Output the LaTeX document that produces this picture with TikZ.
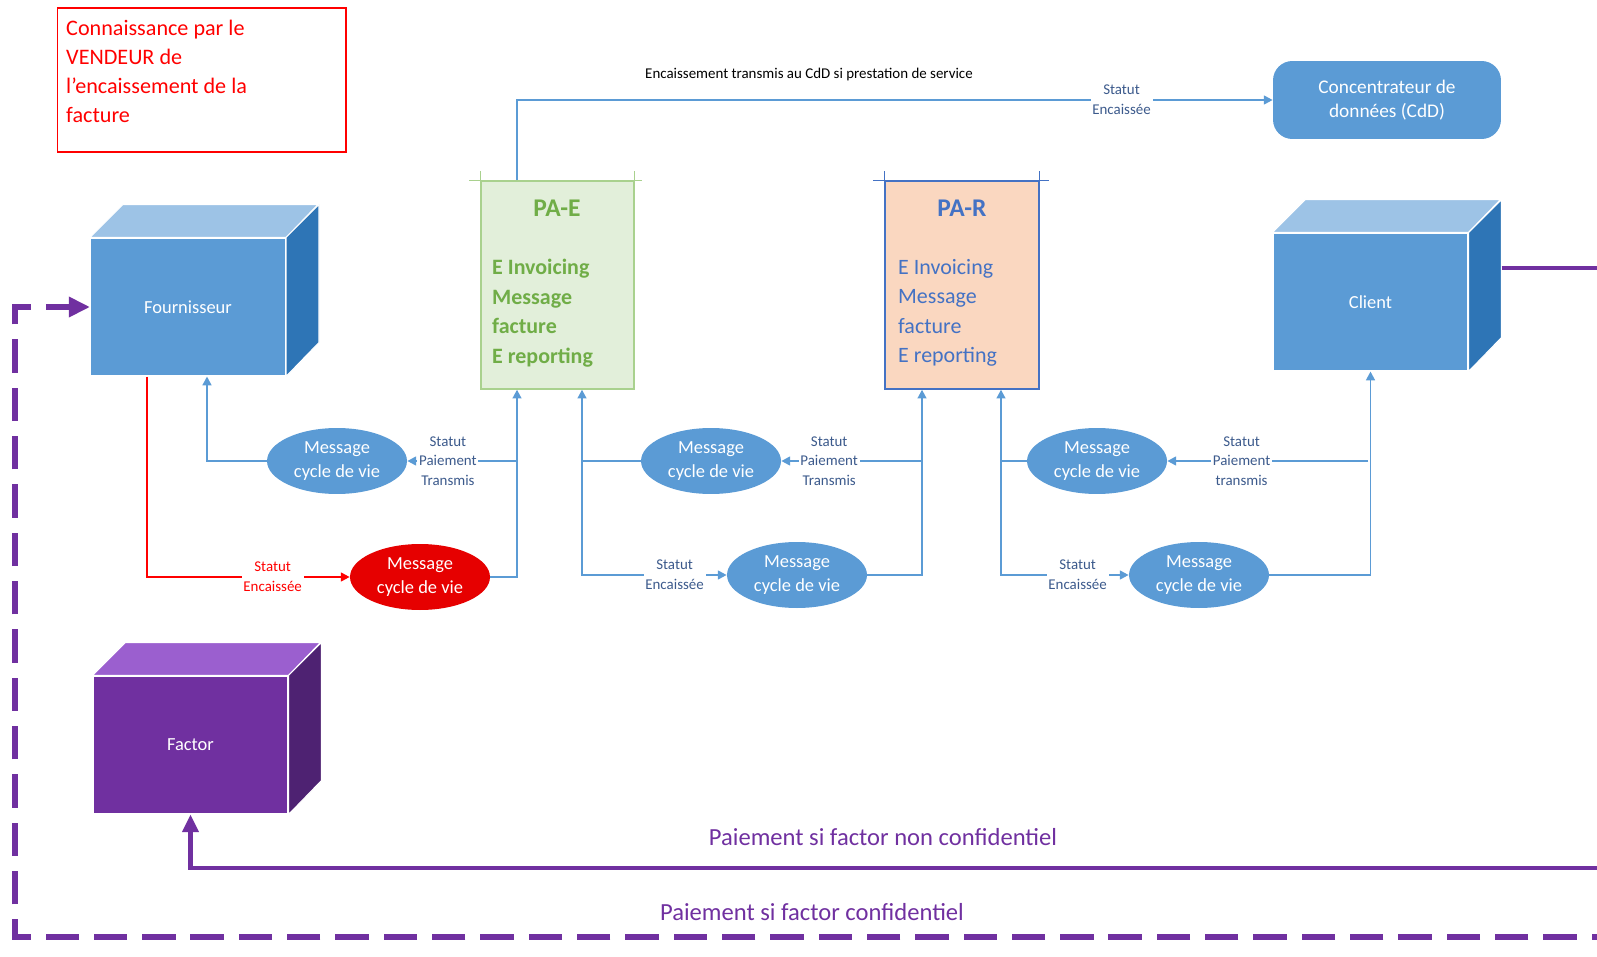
\documentclass[tikz,border=0pt]{standalone}
\usepackage{fontspec}
\setmainfont{Carlito}
\usetikzlibrary{arrows.meta,shapes.geometric}
\definecolor{blueA}{HTML}{5B9BD5}
\definecolor{blueT}{HTML}{9DC3E6}
\definecolor{blueS}{HTML}{2E75B6}
\definecolor{purA}{HTML}{7030A0}
\definecolor{purT}{HTML}{9B5FCF}
\definecolor{purS}{HTML}{4E2272}
\definecolor{greenF}{HTML}{E2EFDA}
\definecolor{greenB}{HTML}{A9D18E}
\definecolor{greenT}{HTML}{70AD47}
\definecolor{peachF}{HTML}{FAD7C0}
\definecolor{parB}{HTML}{4472C4}
\definecolor{statC}{HTML}{3C5A8C}
\definecolor{redE}{HTML}{E60000}
\begin{document}
\begin{tikzpicture}[x=0.02cm, y=-0.02cm,
  cube/.style={rectangle, draw=white, line width=0.6pt, minimum width=3.9cm, minimum height=2.76cm, text=white, font=\fontsize{10.5}{12}\selectfont},
  msg/.style={ellipse, fill=blueA, minimum width=2.8cm, minimum height=1.32cm, inner sep=0pt, text=white, align=center, font=\fontsize{10.5}{13.8}\selectfont},
  stat/.style={fill=white, inner sep=1pt, text=statC, align=center, font=\fontsize{8.5}{11.2}\selectfont},
  link/.style={draw=blueA, line width=1.1pt, -{Triangle[length=5pt,width=5pt]}},
  payline/.style={draw=purA, line width=2.8pt, -{Triangle[length=10pt,width=9pt]}},
  paytext/.style={text=purA, font=\fontsize{14}{16}\selectfont}]
\useasboundingbox (0,0) rectangle (1597,957);
\clip (0,0) rectangle (1597,957);
\node[draw=red, line width=0.6pt, minimum width=5.78cm, minimum height=2.88cm] (note) at (201.5,80) {};
\node[anchor=north west, align=left, text=red, font=\fontsize{12.6}{16.5}\selectfont] (notetxt) at (60,14) {Connaissance par le\\VENDEUR de\\l’encaissement de la\\facture};
\node[cube, fill=blueA] (four) at (188,307) {Fournisseur};
\node[cube, fill=blueA] (cli) at (1370.5,302) {Client};
\node[cube, fill=purA] (fac) at (190.5,745) {Factor};
\foreach \c/\tp/\sd in {four/blueT/blueS, cli/blueT/blueS, fac/purT/purS}{
  \filldraw[fill=\tp, draw=white, line width=0.6pt] (\c.north west) -- ++(33,-33) -- ++(195,0) -- (\c.north east) -- cycle;
  \filldraw[fill=\sd, draw=white, line width=0.6pt] (\c.north east) -- ++(33,-33) -- ++(0,138) -- (\c.south east) -- cycle;
}
\node[rectangle, rounded corners=11pt, fill=blueA, minimum width=4.56cm, minimum height=1.56cm, text=white, align=center, font=\fontsize{11}{14}\selectfont] (cdd) at (1387,100) {Concentrateur de\\données (CdD)};
\node[draw=greenB, fill=greenF, line width=0.8pt, minimum width=3.06cm, minimum height=4.16cm] (pae) at (557.5,285) {};
\draw[greenB, line width=0.8pt] (pae.north west) ++(-11,0) -- ++(173,0);
\draw[greenB, line width=0.8pt] (pae.north west) -- ++(0,-9) (pae.north east) -- ++(0,-9);
\node[text=greenT, font=\bfseries\fontsize{14.5}{16}\selectfont] (paet) at (557,208) {PA-E};
\node[anchor=west, align=left, text=greenT, font=\bfseries\fontsize{12.5}{16.8}\selectfont] (paeb) at (486,313) {E Invoicing\\Message\\facture\\E reporting};
\node[draw=parB, fill=peachF, line width=0.8pt, minimum width=3.08cm, minimum height=4.16cm] (par) at (962,285) {};
\draw[parB, line width=0.8pt] (par.north west) ++(-11,0) -- ++(176,0);
\draw[parB, line width=0.8pt] (par.north west) -- ++(0,-9) (par.north east) -- ++(0,-9);
\node[text=parB, font=\bfseries\fontsize{14.5}{16}\selectfont] (part) at (962,208) {PA-R};
\node[anchor=west, align=left, text=parB, font=\fontsize{12.5}{16.8}\selectfont] (parb) at (892,313) {E Invoicing\\Message\\facture\\E reporting};
\node[msg] (m1) at (337,461) {Message\\cycle de vie};
\node[msg, fill=redE] (m2) at (420,577) {Message\\cycle de vie};
\node[msg] (m3) at (711,461) {Message\\cycle de vie};
\node[msg] (m4) at (797,575) {Message\\cycle de vie};
\node[msg] (m5) at (1097,461) {Message\\cycle de vie};
\node[msg] (m6) at (1199,575) {Message\\cycle de vie};
\coordinate (j1) at (517,461);
\coordinate (j2) at (582,461);
\coordinate (j3) at (922,461);
\coordinate (j4) at (1001,461);
\coordinate (j5) at (1368,461);
\draw[link] ([xshift=-0.81cm]pae.north) |- (cdd.west) node[stat, pos=0.9] {Statut\\Encaissée};
\node[font=\fontsize{8.5}{10}\selectfont] (cddtxt) at (809,75) {Encaissement transmis au CdD si prestation de service};
\draw[link] (m1.west) -| ([xshift=0.38cm]four.south);
\draw[link, draw=red] ([xshift=-0.82cm]four.south) |- (m2.west) node[stat, text=red, pos=0.81] {Statut\\Encaissée};
\draw[link] (m2.east) -| ([xshift=-0.81cm]pae.south);
\draw[link] (j1) -- (m1.east) node[stat, pos=0.63] {Statut\\Paiement\\Transmis};
\draw[link] (m3.west) -| ([xshift=0.49cm]pae.south);
\draw[link] (j2) |- (m4.west) node[stat, pos=0.82] {Statut\\Encaissée};
\draw[link] (m4.east) -| ([xshift=-0.8cm]par.south);
\draw[link] (j3) -- (m3.east) node[stat, pos=0.66] {Statut\\Paiement\\Transmis};
\draw[link] (m5.west) -| ([xshift=0.78cm]par.south);
\draw[link] (j4) |- (m6.west) node[stat, pos=0.8] {Statut\\Encaissée};
\draw[link] (m6.east) -| (cli.south);
\draw[link] (j5) -- (m5.east) node[stat, pos=0.63] {Statut\\Paiement\\transmis};
\coordinate (edge) at (1625,868);
\draw[payline, overlay] ([xshift=0.66cm,yshift=0.68cm]cli.east) -| (edge) -| (fac.south);
\node[paytext] (nonconf) at (883,837) {Paiement si factor non confidentiel};
\coordinate (edge2) at (1625,937);
\coordinate (dcorner) at (15,937);
\draw[payline, overlay, line width=3.4pt, dash pattern=on 19pt off 8.5pt, -{Triangle[length=12pt,width=11pt]}] (edge2) -- (dcorner) |- (four.west);
\node[paytext] (conf) at (812,912) {Paiement si factor confidentiel};
\end{tikzpicture}
\end{document}
